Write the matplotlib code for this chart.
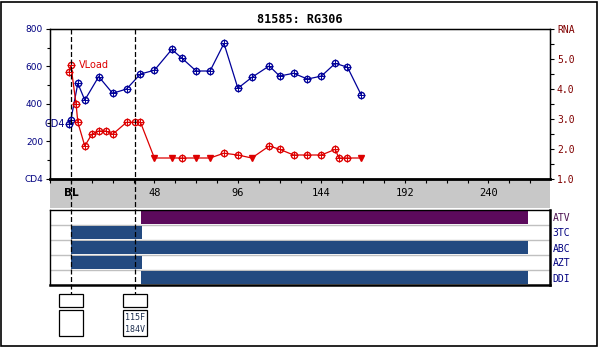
import matplotlib
matplotlib.use("Agg")
import matplotlib.pyplot as plt
from matplotlib.patches import Rectangle
import numpy as np

# ---- data ----
title = "81585: RG306"

cd4_weeks = [-1, 0, 4, 8, 16, 24, 32, 40, 48, 58, 64, 72, 80, 88, 96, 104,
             114, 120, 128, 136, 144, 152, 159, 167]
cd4_values = [293, 315, 510, 421, 546, 457, 480, 560, 580, 691, 643, 576,
              576, 723, 484, 542, 603, 549, 564, 533, 549, 617, 596, 446]

vl_weeks = [-1, 0, 3, 4, 8, 12, 16, 20, 24, 32, 37, 40, 48, 58, 64, 72, 80,
            88, 96, 104, 114, 120, 128, 136, 144, 152, 154, 159, 167]
vl_values = [4.57, 4.79, 3.49, 2.89, 2.10, 2.49, 2.60, 2.60, 2.49, 2.89,
             2.89, 2.89, 1.70, 1.70, 1.70, 1.70, 1.70, 1.86, 1.80, 1.70,
             2.10, 1.99, 1.80, 1.80, 1.80, 1.99, 1.70, 1.70, 1.70]
vl_below_limit = [False, False, False, False, False, False, False, False,
                  False, False, False, False, True, True, False, True, True,
                  False, False, True, False, False, False, False, False,
                  False, False, False, True]

x_ticks = [0, 48, 96, 144, 192, 240]
x_tick_labels = ["BL", "48", "96", "144", "192", "240"]
cd4_ticks = [0, 200, 400, 600, 800]
cd4_tick_labels = ["CD4", "200", "400", "600", "800"]
rna_ticks = [1, 2, 3, 4, 5, 6]
rna_tick_labels = ["1.0", "2.0", "3.0", "4.0", "5.0", "RNA"]

drugs = ["ATV", "3TC", "ABC", "AZT", "DDI"]
drug_start = [40.5, 0, 0, 0, 40.5]
drug_stop = [263, 41, 263, 41, 263]
drug_colors = ["#5c0a5c", "#234a80", "#234a80", "#234a80", "#234a80"]

genotype_weeks = [0, 37]
genotype_mutations = ["", "115F\n184V"]

# ---- layout (pixels of a 600x347 canvas) ----
W, H = 600, 347


def box(x0, y0, x1, y1):
    return [x0 / W, 1 - y1 / H, (x1 - x0) / W, (y1 - y0) / H]


NAVY = "#000080"
DARKRED = "#800000"
RED = "#dd0000"
BLUE = "#000099"
XLIM = (-12, 275.4)

fig = plt.figure(figsize=(6, 3.47), dpi=100)
fig.patch.set_facecolor("white")
fig.patches.append(Rectangle((1 / W, 1 / H), 596 / W, 344 / H, fill=False,
                             edgecolor="black", linewidth=1.2,
                             transform=fig.transFigure))

# gray band under the time axis
ax_band = fig.add_axes(box(50, 179, 550, 208))
ax_band.set_facecolor("#c8c8c8")
ax_band.set_xlim(XLIM)
ax_band.set_xticks([])
ax_band.set_yticks([])
for s in ax_band.spines.values():
    s.set_visible(False)

# treatment panel
ax_tx = fig.add_axes(box(50, 210, 550, 285))
ax_tx.set_xlim(XLIM)
ax_tx.set_ylim(len(drugs) - 0.5, -0.5)
ypos = np.arange(len(drugs))
ax_tx.barh(ypos, np.array(drug_stop) - np.array(drug_start), left=drug_start,
           height=0.86, color=drug_colors, zorder=2)
for y in ypos[:-1]:
    ax_tx.axhline(y + 0.5, color="#c0c0c0", lw=1, zorder=1)
ax_tx.set_xticks([])
ax_tx.yaxis.tick_right()
ax_tx.set_yticks(ypos, drugs)
ax_tx.tick_params(axis="y", length=0, pad=2)
for lab, c in zip(ax_tx.get_yticklabels(), ["#4a1050"] + [NAVY] * 4):
    lab.set_fontfamily("DejaVu Sans Mono")
    lab.set_fontsize(7)
    lab.set_color(c)
for side in ["left", "top"]:
    ax_tx.spines[side].set_linewidth(1)
for side in ["right", "bottom"]:
    ax_tx.spines[side].set_linewidth(1.8)

# CD4 / viral load panel
ax_cd4 = fig.add_axes(box(50, 29, 550, 179))
ax_cd4.set_facecolor("white")
ax_cd4.set_xlim(XLIM)
ax_cd4.set_ylim(0, 800)
ax_cd4.plot(cd4_weeks, cd4_values, color=BLUE, lw=0.9, marker="o",
            markersize=4.5, markerfacecolor="none", markeredgewidth=1,
            clip_on=False, zorder=3)
ax_cd4.plot(cd4_weeks, cd4_values, ls="none", color=BLUE, marker="+",
            markersize=6, markeredgewidth=0.7, clip_on=False, zorder=3)
ax_cd4.annotate("CD4", (cd4_weeks[0], cd4_values[0]), xytext=(-3, 0),
                textcoords="offset points", ha="right", va="center",
                color=NAVY, fontsize=7, annotation_clip=False)
ax_cd4.set_title(title, fontsize=8.5, fontweight="bold",
                 family="DejaVu Sans Mono", pad=4.5)

ax_cd4.set_xticks(x_ticks, x_tick_labels)
ax_cd4.set_xticks(np.arange(-12, 270, 12), minor=True)
ax_cd4.tick_params(axis="x", which="both", direction="out", length=3,
                   width=0.8, pad=3.5)
for lab in ax_cd4.get_xticklabels():
    lab.set_fontfamily("DejaVu Sans Mono")
    lab.set_fontsize(7.5)
ax_cd4.get_xticklabels()[0].set_fontweight("bold")
ax_cd4.get_xticklabels()[0].set_fontfamily("DejaVu Sans")

ax_cd4.set_yticks(cd4_ticks, cd4_tick_labels)
ax_cd4.set_yticks(np.arange(0, 801, 100), minor=True)
ax_cd4.tick_params(axis="y", which="major", length=3, width=0.8, pad=2,
                   labelsize=6.5, labelcolor=NAVY)
ax_cd4.tick_params(axis="y", which="minor", length=2, width=0.8)
ax_cd4.spines["bottom"].set_linewidth(2)
for side in ["left", "top", "right"]:
    ax_cd4.spines[side].set_linewidth(1)

ax_vl = ax_cd4.twinx()
ax_vl.set_ylim(1, 6)
ax_vl.plot(vl_weeks, vl_values, color=RED, lw=0.9, zorder=2)
det = [(w, v) for w, v, b in zip(vl_weeks, vl_values, vl_below_limit) if not b]
und = [(w, v) for w, v, b in zip(vl_weeks, vl_values, vl_below_limit) if b]
ax_vl.plot([d[0] for d in det], [d[1] for d in det], ls="none", color=RED,
           marker="o", markersize=4.5, markerfacecolor="none",
           markeredgewidth=1, clip_on=False, zorder=3)
ax_vl.plot([d[0] for d in det], [d[1] for d in det], ls="none", color=RED,
           marker="+", markersize=6, markeredgewidth=0.7, clip_on=False,
           zorder=3)
ax_vl.plot([u[0] for u in und], [u[1] for u in und], ls="none", color=RED,
           marker="v", markersize=5, zorder=3)
ax_vl.annotate("VLoad", (vl_weeks[1], vl_values[1]), xytext=(5.5, 0),
               textcoords="offset points", ha="left", va="center",
               color=RED, fontsize=7)
ax_vl.set_yticks(rna_ticks, rna_tick_labels)
ax_vl.set_yticks(np.arange(1.5, 6, 1.0), minor=True)
ax_vl.tick_params(axis="y", which="major", length=3, width=0.8, pad=2,
                  labelcolor=DARKRED)
ax_vl.tick_params(axis="y", which="minor", length=3, width=0.8)
for lab in ax_vl.get_yticklabels():
    lab.set_fontfamily("DejaVu Sans Mono")
    lab.set_fontsize(7)

# overlay: genotype dates, dashed guides and boxes
ax_over = fig.add_axes(box(50, 29, 550, 340))
ax_over.set_xlim(XLIM)
ax_over.set_ylim(340, 29)
ax_over.axis("off")
ax_over.patch.set_visible(False)
half = 6.9
for wk, muts in zip(genotype_weeks, genotype_mutations):
    ax_over.vlines(wk, 29, 294, colors="black", lw=0.9,
                   linestyles=(0, (4, 2)))
    ax_over.add_patch(Rectangle((wk - half, 294), 2 * half, 13, fill=False,
                                edgecolor="black", lw=0.9))
    ax_over.add_patch(Rectangle((wk - half, 310), 2 * half, 26, fill=False,
                                edgecolor="black", lw=0.9))
    if muts:
        ax_over.text(wk - half + 0.9, 323.5, muts, ha="left", va="center",
                     family="DejaVu Sans Mono", fontsize=6, color="#1f3050",
                     linespacing=1.5)

fig.savefig("out.png", dpi=100, facecolor="white")
